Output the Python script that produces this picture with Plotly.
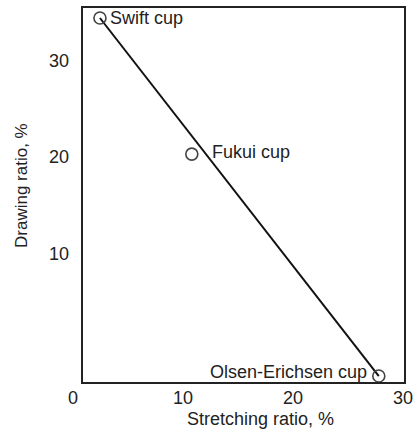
import plotly.graph_objects as go

# Data
cups = ["Swift cup", "Fukui cup", "Olsen-Erichsen cup"]
stretching = [2.45, 10.8, 27.8]     # Stretching ratio, %
drawing = [34.4, 20.3, -2.7]        # Drawing ratio, %
x_ticks = [0, 10, 20, 30]
y_ticks = [10, 20, 30]

W, H = 413, 430
ML, MR, MT, MB = 73, 8, 7, 47
plot_w = W - ML - MR
plot_h = H - MT - MB
frame_left = (82 - ML) / plot_w

FONT = "Liberation Sans, Arial, sans-serif"
TXT = "#222222"

fig = go.Figure()

# straight line joining the two extreme cups
fig.add_trace(go.Scatter(
    x=[stretching[0], stretching[-1]], y=[drawing[0], drawing[-1]],
    mode="lines", line=dict(color="#111111", width=2),
    hoverinfo="skip", showlegend=False))

# open circle markers
fig.add_trace(go.Scatter(
    x=stretching, y=drawing, mode="markers",
    marker=dict(symbol="circle-open", size=12, color="#444444",
                line=dict(width=1.6, color="#444444")),
    showlegend=False))

# point labels
shifts = [(8, 0, "left"), (18, 2, "left"), (-10, 4, "right")]
for name, xv, yv, (dx, dy, anc) in zip(cups, stretching, drawing, shifts):
    fig.add_annotation(x=xv, y=yv, text=name, showarrow=False,
                       xanchor=anc, yanchor="middle", xshift=dx, yshift=dy,
                       font=dict(family=FONT, size=18, color=TXT))

# axis titles
fig.add_annotation(x=(260.5 - ML) / plot_w, y=(383 - 419) / plot_h,
                   xref="paper", yref="paper", text="Stretching ratio, %",
                   showarrow=False, xanchor="center", yanchor="middle",
                   font=dict(family=FONT, size=18, color=TXT))
fig.add_annotation(x=(21 - ML) / plot_w, y=(383 - 186) / plot_h,
                   xref="paper", yref="paper", text="Drawing ratio, %",
                   textangle=-90, showarrow=False, xanchor="center",
                   yanchor="middle",
                   font=dict(family=FONT, size=17, color=TXT))

# frame
fig.add_shape(type="rect", xref="paper", yref="paper",
              x0=frame_left, x1=1, y0=0, y1=1,
              line=dict(color="#222222", width=2), layer="above")

fig.update_layout(
    width=W, height=H,
    margin=dict(l=ML, r=MR, t=MT, b=MB, pad=0, autoexpand=False),
    paper_bgcolor="white", plot_bgcolor="white",
    font=dict(family=FONT, size=18, color=TXT),
    xaxis=dict(range=[0, plot_w / 11.0], tickvals=x_ticks, automargin=False,
               showgrid=False, zeroline=False, showline=False, ticks="",
               ticklabeloverflow="allow",
               tickfont=dict(size=18, color=TXT), ticklabelstandoff=2),
    yaxis=dict(range=[-3.42, 35.54], tickvals=y_ticks, automargin=False,
               anchor="free", position=frame_left,
               showgrid=False, zeroline=False, showline=False, ticks="",
               ticklabeloverflow="allow",
               tickfont=dict(size=18, color=TXT), ticklabelstandoff=13),
)

fig.write_html(
    "out.html",
    config={"displayModeBar": False},
    post_script="document.body.style.margin='0px';"
                "document.body.style.overflow='hidden';",
)
